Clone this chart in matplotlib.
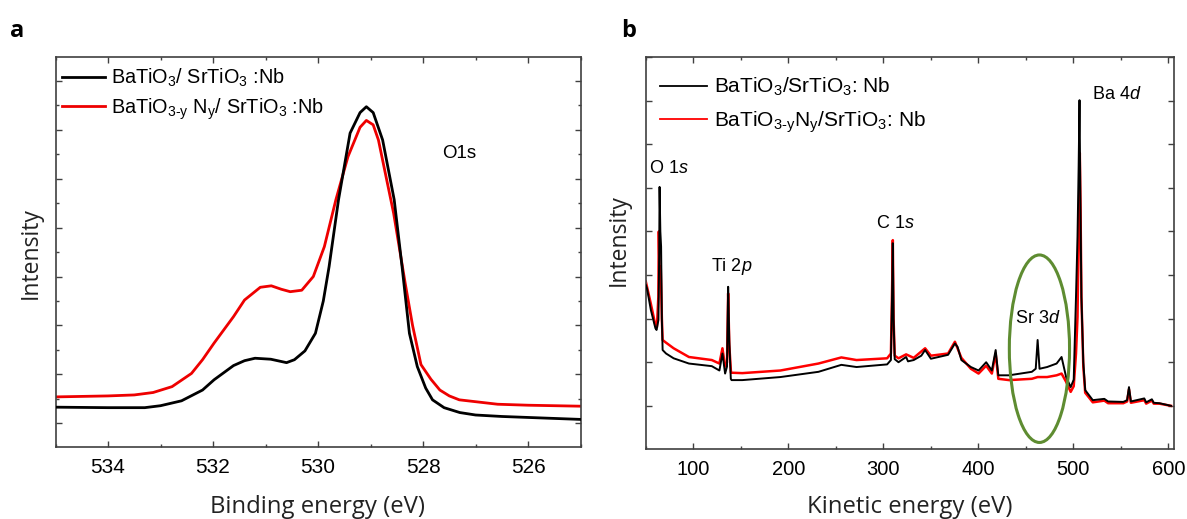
import matplotlib
matplotlib.use("Agg")
import matplotlib.pyplot as plt
from matplotlib import font_manager
from matplotlib.patches import Ellipse
from matplotlib.ticker import MultipleLocator

plt.rcParams['font.family'] = ['Liberation Sans', 'DejaVu Sans']
plt.rcParams['mathtext.fontset'] = 'custom'
plt.rcParams['mathtext.rm'] = 'Liberation Sans'
plt.rcParams['mathtext.it'] = 'Liberation Sans:italic'
plt.rcParams['mathtext.bf'] = 'Liberation Sans:bold'

# ---- panel a : O1s core level ----
be_black = [535.0, 534.0, 533.3, 533.0, 532.6, 532.2, 531.98, 531.61, 531.4, 531.2,
            530.9, 530.6, 530.45, 530.25, 530.05, 529.9, 529.79, 529.61, 529.39, 529.2,
            529.08, 528.95, 528.77, 528.55, 528.40, 528.26, 528.11, 527.95, 527.82, 527.6,
            527.3, 527.0, 526.5, 526.0, 525.5, 525.0]
int_black = [0.33, 0.32, 0.32, 0.36, 0.46, 0.68, 0.89, 1.18, 1.28, 1.33,
             1.31, 1.24, 1.30, 1.48, 1.84, 2.50, 3.20, 4.57, 5.93, 6.35,
             6.47, 6.35, 5.79, 4.57, 3.20, 1.84, 1.16, 0.72, 0.48, 0.32,
             0.22, 0.17, 0.14, 0.12, 0.10, 0.08]

be_red = [535.0, 534.5, 534.0, 533.5, 533.14, 532.78, 532.41, 532.2, 531.98, 531.61,
          531.4, 531.1, 530.89, 530.7, 530.53, 530.31, 530.09, 529.88, 529.66, 529.43,
          529.2, 529.08, 528.95, 528.85, 528.56, 528.34, 528.2, 528.04, 527.85, 527.68,
          527.5, 527.31, 526.58, 526.0, 525.0]
int_red = [0.54, 0.55, 0.56, 0.58, 0.63, 0.75, 1.02, 1.30, 1.64, 2.18,
           2.52, 2.78, 2.81, 2.74, 2.69, 2.72, 3.00, 3.61, 4.57, 5.45,
           6.05, 6.19, 6.10, 5.79, 4.29, 2.86, 2.00, 1.20, 0.90, 0.68,
           0.56, 0.48, 0.39, 0.37, 0.35]

# ---- panel b : survey spectrum ----
ke_black = [49.8, 51.0, 55.1, 59.9, 61.1, 63.1, 63.9, 64.3, 65.1, 65.9,
            66.7, 67.5, 71.1, 79.1, 95.2, 119.3, 127.3, 130.5, 133.3, 135.3,
            136.5, 137.7, 139.3, 140.1, 151.4, 191.5, 231.6, 255.7, 271.7, 303.9,
            307.9, 309.1, 309.9, 310.7, 311.9, 315.9, 323.9, 325.9, 331.9, 339.9,
            343.9, 350.0, 368.1, 375.3, 378.1, 382.1, 392.1, 400.2, 408.2, 414.2,
            418.2, 421.0, 432.3, 456.3, 460.4, 462.4, 464.4, 472.4, 482.4, 487.6,
            492.4, 497.2, 500.4, 502.8, 504.4, 505.6, 506.5, 507.3, 508.5, 510.5,
            512.5, 520.5, 532.6, 536.6, 552.6, 556.6, 558.6, 560.6, 574.7, 576.7,
            582.7, 584.7, 590.7, 602.8]
cnt_black = [2.77, 2.70, 2.20, 1.78, 1.74, 1.97, 3.50, 5.02, 4.00, 3.65,
             2.00, 1.28, 1.20, 1.09, 0.97, 0.91, 0.81, 1.20, 0.74, 0.90,
             2.73, 1.50, 0.62, 0.59, 0.59, 0.66, 0.78, 0.94, 0.89, 0.95,
             1.05, 2.50, 3.73, 2.00, 1.07, 1.00, 1.12, 1.02, 1.05, 1.15,
             1.28, 1.08, 1.17, 1.43, 1.35, 1.05, 0.89, 0.81, 1.00, 0.81,
             1.28, 0.70, 0.70, 0.78, 0.85, 1.51, 0.85, 0.89, 0.97, 1.12,
             0.66, 0.43, 0.60, 2.50, 3.88, 5.50, 7.01, 5.00, 2.50, 1.00,
             0.36, 0.13, 0.16, 0.10, 0.09, 0.13, 0.43, 0.10, 0.17, 0.08,
             0.15, 0.07, 0.06, 0.00]

ke_red = [49.8, 55.0, 59.9, 61.5, 63.0, 63.5, 64.3, 65.5, 66.7, 67.5,
          71.0, 79.1, 95.2, 119.3, 127.3, 130.5, 133.3, 135.3, 136.5, 137.7,
          139.5, 151.4, 191.5, 231.6, 255.7, 271.7, 303.9, 307.9, 309.1, 309.9,
          310.7, 311.9, 315.9, 323.9, 331.9, 343.9, 350.0, 368.1, 375.3, 382.1,
          392.1, 400.2, 408.2, 414.2, 418.2, 421.0, 432.3, 456.3, 462.4, 472.4,
          482.4, 487.6, 492.4, 497.2, 500.4, 502.8, 504.4, 505.6, 506.8, 507.6,
          508.5, 510.5, 512.5, 520.5, 532.6, 536.6, 552.6, 556.6, 558.6, 560.6,
          574.7, 576.7, 582.7, 584.7, 590.7, 602.8]
cnt_red = [2.85, 2.35, 1.85, 1.80, 2.50, 4.00, 3.00, 3.20, 2.00, 1.51,
           1.45, 1.32, 1.12, 1.05, 0.97, 1.32, 0.90, 1.00, 2.58, 1.40,
           0.76, 0.75, 0.81, 0.97, 1.11, 1.05, 1.09, 1.20, 2.60, 3.80,
           2.00, 1.15, 1.09, 1.18, 1.10, 1.32, 1.15, 1.20, 1.47, 1.10,
           0.85, 0.74, 0.92, 0.74, 1.20, 0.62, 0.59, 0.62, 0.66, 0.66,
           0.70, 0.74, 0.55, 0.32, 0.45, 1.20, 2.04, 4.00, 5.80, 4.50,
           2.50, 0.90, 0.30, 0.08, 0.12, 0.06, 0.06, 0.10, 0.38, 0.07,
           0.13, 0.05, 0.12, 0.05, 0.05, 0.00]

peak_labels = ['O $\\mathit{1s}$', 'Ti $\\mathit{2p}$', 'C $\\mathit{1s}$', 'Sr $\\mathit{3d}$', 'Ba $\\mathit{4d}$']
peak_x = [53.0, 118.4, 291.8, 438.3, 519.6]
peak_y = [5.45, 3.19, 4.18, 2.0, 7.15]

# the legend of panel a is set in a condensed face
installed = {f.name for f in font_manager.fontManager.ttflist}
if 'Liberation Sans Narrow' in installed:
    leg_a_font = {'family': ['Liberation Sans Narrow', 'Liberation Sans'], 'size': 16.5}
else:
    leg_a_font = {'family': ['Liberation Sans'], 'size': 14.3}

W, H = 1187, 519
fig = plt.figure(figsize=(W / 100, H / 100), dpi=100)

def px_axes(l, t, r, b):
    return fig.add_axes([l / W, 1 - b / H, (r - l) / W, (b - t) / H])

spine_col = '#404040'

# ---------- panel a ----------
ax1 = px_axes(55.5, 57.3, 580.6, 447.3)
l1, = ax1.plot(be_black, int_black, color='black', lw=2.0, zorder=3,
               label='BaTiO$_3$/ SrTiO$_3$ :Nb')
l2, = ax1.plot(be_red, int_red, color='#ee0000', lw=2.0, zorder=2,
               label='BaTiO$_{\\text{3-y}}$ N$_{\\text{y}}$/ SrTiO$_3$ :Nb')
ax1.set_xlim(535, 525)
ax1.set_ylim(-0.49, 7.48)
ax1.xaxis.set_major_locator(MultipleLocator(2))
ax1.xaxis.set_minor_locator(MultipleLocator(1))
ax1.yaxis.set_major_locator(MultipleLocator(1))
ax1.yaxis.set_minor_locator(MultipleLocator(0.5))
ax1.tick_params(which='both', direction='in', top=True, right=True, color=spine_col)
ax1.tick_params(which='major', length=4.3, width=1, labelsize=15, pad=7.5)
ax1.tick_params(which='minor', length=2.2, width=1)
ax1.tick_params(axis='y', labelleft=False)
ax1.annotate('O1s', xy=(459 / W, 1 - 153 / H), xycoords='figure fraction',
             fontsize=13.5, ha='center', va='center')
leg_a = ax1.legend(handles=[l1, l2], loc='upper left', bbox_to_anchor=(0.0118, 0.976),
                   frameon=False, prop=leg_a_font, handlelength=2.2, handletextpad=0.28,
                   borderpad=0, borderaxespad=0, labelspacing=0.36)
for s in ax1.spines.values():
    s.set_color(spine_col)
    s.set_linewidth(1.2)

# ---------- panel b ----------
ax2 = px_axes(646, 57, 1174, 449)
k1, = ax2.plot(ke_red, cnt_red, color='#ff0000', lw=1.8, zorder=2,
               label='BaTiO$_{\\text{3-y}}$N$_{\\text{y}}$/SrTiO$_3$: Nb')
k0, = ax2.plot(ke_black, cnt_black, color='black', lw=1.4, zorder=3,
               label='BaTiO$_3$/SrTiO$_3$: Nb')
ax2.set_xlim(50, 606)
ax2.set_ylim(-0.99, 8.0)
ax2.xaxis.set_major_locator(MultipleLocator(100))
ax2.xaxis.set_minor_locator(MultipleLocator(50))
ax2.yaxis.set_major_locator(MultipleLocator(1))
ax2.tick_params(which='both', direction='in', top=True, right=True, color=spine_col)
ax2.tick_params(which='major', length=4.5, width=1, labelsize=14.5, pad=7.8)
ax2.tick_params(which='minor', length=2.4, width=1)
ax2.tick_params(axis='y', labelleft=False)
for lab, x, y in zip(peak_labels, peak_x, peak_y):
    ax2.text(x, y, lab, fontsize=13, ha='left', va='center')
ax2.add_patch(Ellipse((464.3, 1.31), 63.4, 4.3, fill=False, edgecolor='#5e8c31', lw=2.2, zorder=4))
leg_b = ax2.legend(handles=[k0, k1], loc='upper left', bbox_to_anchor=(0.027, 0.952),
                   frameon=False, fontsize=15, handlelength=2.25, handletextpad=0.33,
                   borderpad=0, borderaxespad=0, labelspacing=0.55)
for line in leg_b.get_lines():
    line.set_linewidth(1.3)
for s in ax2.spines.values():
    s.set_color(spine_col)
    s.set_linewidth(1.2)

# axis labels and panel letters
lab_font = ['Open Sans', 'DejaVu Sans']
fig.text(318 / W, 1 - 507 / H, 'Binding energy (eV)', fontsize=17.2, family=lab_font,
         ha='center', va='center', color='#222222')
fig.text(910 / W, 1 - 507 / H, 'Kinetic energy (eV)', fontsize=17.2, family=lab_font,
         ha='center', va='center', color='#222222')
fig.text(30.6 / W, 1 - 253 / H, 'Intensity', fontsize=16.5, family=lab_font, rotation=90,
         ha='center', va='center', color='#222222')
fig.text(619 / W, 1 - 240 / H, 'Intensity', fontsize=16.5, family=lab_font, rotation=90,
         ha='center', va='center', color='#222222')
fig.text(10 / W, 1 - 37 / H, 'a', fontsize=17, fontweight='bold', family=lab_font, va='baseline')
fig.text(621 / W, 1 - 37 / H, 'b', fontsize=17, fontweight='bold', family=lab_font, va='baseline')

fig.savefig('out.png', dpi=100)
